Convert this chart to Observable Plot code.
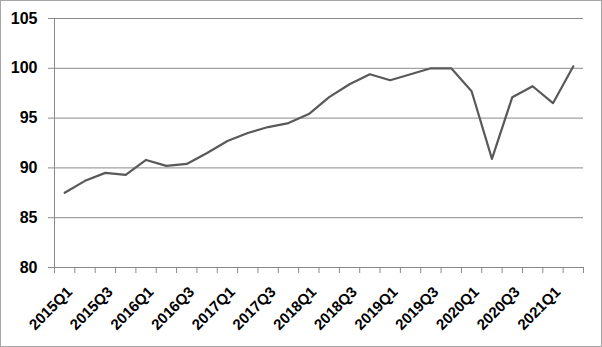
<!DOCTYPE html>
<html>
<head>
<meta charset="utf-8">
<script src="https://cdn.jsdelivr.net/npm/d3@7"></script>
<script src="https://cdn.jsdelivr.net/npm/@observablehq/plot@0.6"></script>
<style>
  html, body { margin: 0; padding: 0; background: #fff; }
  #chart svg { display: block; outline: 1px solid #a6a6a6; outline-offset: -1px; }
</style>
</head>
<body>
<div id="chart"></div>
<script>
const quarters = [
  "2015Q1","2015Q2","2015Q3","2015Q4",
  "2016Q1","2016Q2","2016Q3","2016Q4",
  "2017Q1","2017Q2","2017Q3","2017Q4",
  "2018Q1","2018Q2","2018Q3","2018Q4",
  "2019Q1","2019Q2","2019Q3","2019Q4",
  "2020Q1","2020Q2","2020Q3","2020Q4",
  "2021Q1","2021Q2"
];
const values = [
  87.5, 88.7, 89.5, 89.3,
  90.8, 90.2, 90.4, 91.5,
  92.7, 93.5, 94.1, 94.5,
  95.4, 97.1, 98.4, 99.4,
  98.8, 99.4, 100.0, 100.0,
  97.7, 90.9, 97.1, 98.2,
  96.5, 100.2
];
const yTicks = [80, 85, 90, 95, 100, 105];

const data = quarters.map((q, i) => ({i, q, v: values[i]}));
const boundaries = d3.range(-0.5, quarters.length, 1);
const labelIdx = d3.range(0, quarters.length, 2);

const font = "'Liberation Sans', Arial, sans-serif";

const chart = Plot.plot({
  width: 602,
  height: 347,
  marginLeft: 54,
  marginRight: 19,
  marginTop: 18,
  marginBottom: 80,
  style: {fontFamily: font, color: "#000", background: "#fff"},
  x: {domain: [-0.5, quarters.length - 0.5], axis: null},
  y: {domain: [80, 105], axis: null},
  marks: [
    Plot.ruleY(yTicks.slice(1), {stroke: "#8a8a8a", strokeWidth: 1, strokeOpacity: 1}),
    Plot.axisY({ticks: yTicks, tickSize: 6, tickPadding: 11, stroke: "#8a8a8a", strokeOpacity: 1, label: null, tickFormat: d => d, fontSize: 16, fontWeight: "bold"}),
    Plot.ruleX([-0.5], {stroke: "#8a8a8a"}),
    Plot.ruleY([80], {stroke: "#8a8a8a"}),
    Plot.axisX({ticks: boundaries, tickSize: 6, tickFormat: () => "", stroke: "#8a8a8a", strokeOpacity: 1, label: null}),
    Plot.axisX({ticks: labelIdx, tickSize: 0, tickPadding: 22, dx: 5, tickRotate: -45, label: null, tickFormat: i => quarters[i], fontSize: 15, fontWeight: "bold"}),
    Plot.line(data, {x: "i", y: "v", stroke: "#595959", strokeWidth: 2.2})
  ]
});
document.getElementById("chart").appendChild(chart);
</script>
</body>
</html>
